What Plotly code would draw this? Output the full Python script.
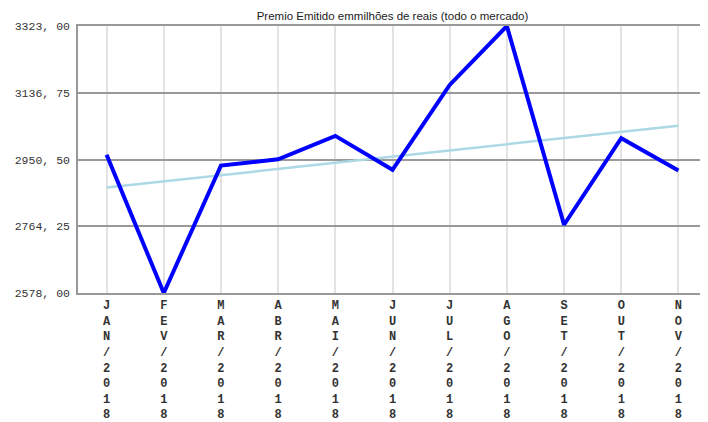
import numpy as np
import plotly.graph_objects as go

months = ["JAN/2018", "FEV/2018", "MAR/2018", "ABR/2018", "MAI/2018", "JUN/2018",
          "JUL/2018", "AGO/2018", "SET/2018", "OUT/2018", "NOV/2018"]
premio = [2963.5, 2578.0, 2933.7, 2951.0, 3016.4, 2921.7, 3158.6, 3323.0, 2768.4, 3010.0, 2919.8]
y_ticks = [2578.00, 2764.25, 2950.50, 3136.75, 3323.00]
y_tick_text = ["2578, 00", "2764, 25", "2950, 50", "3136, 75", "3323, 00"]
title_text = "Premio Emitido emmilhões de reais (todo o mercado)"

# linear trend of the series (as the original chart draws it)
xi = np.arange(len(premio))
coef = np.polyfit(xi, premio, 1)
trend = list(np.polyval(coef, xi))

x_labels = ["<br>".join(list(m)) for m in months]

W, H = 700, 414  # page body adds an 8px offset
L, R, T, B = 70, 1, 18, 129

fig = go.Figure()
fig.add_trace(go.Scatter(x=months, y=trend, mode="lines",
                         line=dict(color="#add8e6", width=2.5), hoverinfo="skip"))
fig.add_trace(go.Scatter(x=months, y=premio, mode="lines",
                         line=dict(color="#0000ff", width=4)))

fig.update_layout(
    width=W, height=H,
    margin=dict(l=L, r=R, t=T, b=B),
    paper_bgcolor="white", plot_bgcolor="white",
    showlegend=False,
    title=dict(text=title_text, x=(L + W - R) / 2 / W, xanchor="center",
               y=1 - 8 / H, yanchor="middle",
               font=dict(family="Liberation Sans, Arial", size=11.5, color="#222")),
    xaxis=dict(
        type="category", range=[-0.5, 10.5],
        tickmode="array", tickvals=months, ticktext=x_labels,
        showgrid=True, gridcolor="#e3e3e3", gridwidth=2,
        showline=True, linecolor="#999999", linewidth=1.5, mirror=True,
        zeroline=False, ticks="", ticklabelstandoff=0,
        tickfont=dict(family="Liberation Mono, Courier New", size=12, color="#333",
                      weight="bold"),
        automargin=False, fixedrange=True,
    ),
    yaxis=dict(
        range=[2578, 3323], tickmode="array", tickvals=y_ticks, ticktext=y_tick_text,
        showgrid=True, gridcolor="#999999", gridwidth=1.5,
        showline=True, linecolor="#999999", linewidth=1.5,
        zeroline=False, ticks="", ticklabelstandoff=4,
        tickfont=dict(family="Liberation Mono, Courier New", size=11.5, color="#333"),
        automargin=False, fixedrange=True,
    ),
)

fig.write_html("out.html")
